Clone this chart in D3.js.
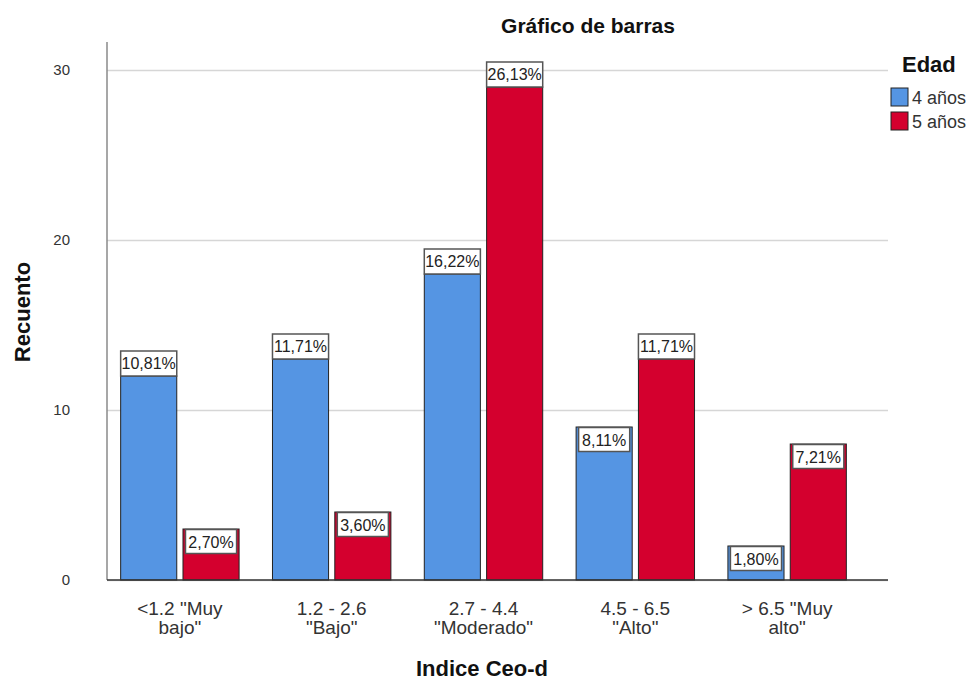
<!DOCTYPE html>
<html>
<head>
<meta charset="utf-8">
<script src="https://cdn.jsdelivr.net/npm/d3@7"></script>
<style>
  body { margin: 0; background: #fff; }
  svg { font-family: "Liberation Sans", Arial, sans-serif; }
</style>
</head>
<body>
<script>
'use strict';
// categories of the x axis, with the line breaks used under the ticks
let categories = ['<1.2 "Muy bajo"', '1.2 - 2.6 "Bajo"', '2.7 - 4.4 "Moderado"', '4.5 - 6.5 "Alto"', '> 6.5 "Muy alto"'];
let tickLines = [['<1.2 "Muy', 'bajo"'], ['1.2 - 2.6', '"Bajo"'], ['2.7 - 4.4', '"Moderado"'], ['4.5 - 6.5', '"Alto"'], ['> 6.5 "Muy', 'alto"']];
let series = ['4 años', '5 años'];
let counts4 = [12, 13, 18, 9, 2];
let counts5 = [3, 4, 29, 13, 8];
let pct4 = ['10,81%', '11,71%', '16,22%', '8,11%', '1,80%'];
let pct5 = ['2,70%', '3,60%', '26,13%', '11,71%', '7,21%'];
let yTicks = [0, 10, 20, 30];
let colors = ['#5595e3', '#d4002e'];

let width = 971, height = 680;
let margin = {left: 107, right: 888, top: 42, bottom: 580};

let svg = d3.select('body').append('svg').attr('width', width).attr('height', height);

let y = d3.scaleLinear().domain([0, 30]).range([margin.bottom, 70]);
let x0 = d3.scaleBand().domain(categories).range([107, 860]).paddingInner(0.22).paddingOuter(0.09);
let x1 = d3.scaleBand().domain(series).range([0, x0.bandwidth()]).paddingInner(0.1);

// grid + y labels
let yAxis = d3.axisLeft(y).tickValues(yTicks).tickSize(-(margin.right - margin.left));
let yg = svg.append('g').attr('transform', 'translate(' + margin.left + ',0)').call(yAxis);
yg.select('.domain').remove();
yg.selectAll('.tick line').attr('stroke', '#d6d6d6').attr('stroke-width', 1.5);
yg.selectAll('.tick text').attr('x', -37).attr('fill', '#333').style('font-size', '15px');

svg.append('line').attr('x1', margin.left).attr('x2', margin.left).attr('y1', margin.top).attr('y2', margin.bottom)
  .attr('stroke', '#8a8a8a').attr('stroke-width', 1.5);

// bars
let rows = categories.map(function(c, i){
  return [
    {cat: c, s: series[0], v: counts4[i], p: pct4[i]},
    {cat: c, s: series[1], v: counts5[i], p: pct5[i]}
  ];
});

let groups = svg.append('g').selectAll('g').data(rows).enter().append('g')
  .attr('transform', function(d){ return 'translate(' + x0(d[0].cat) + ',0)'; });

groups.selectAll('rect').data(function(d){ return d; }).enter().append('rect')
  .attr('x', function(d){ return x1(d.s); })
  .attr('y', function(d){ return y(d.v); })
  .attr('width', x1.bandwidth())
  .attr('height', function(d){ return y(0) - y(d.v); })
  .attr('fill', function(d){ return colors[series.indexOf(d.s)]; })
  .attr('stroke', '#222').attr('stroke-width', 1);

// percentage labels: short bars get the label inside the bar top
let labels = groups.selectAll('g.lab').data(function(d){ return d; }).enter().append('g').attr('class', 'lab')
  .attr('transform', function(d){
    let inside = d.v < 10;
    let bx = x1(d.s) + (inside ? 2.5 : 0);
    let by = inside ? y(d.v) + 0.5 : y(d.v) - 25;
    return 'translate(' + bx + ',' + by + ')';
  });
labels.append('rect')
  .attr('width', function(d){ return d.v < 10 ? x1.bandwidth() - 5 : x1.bandwidth(); })
  .attr('height', function(d){ return d.v < 10 ? 24 : 25; })
  .attr('fill', '#fff').attr('stroke', '#555').attr('stroke-width', 1.5);
labels.append('text')
  .attr('x', function(d){ return (d.v < 10 ? x1.bandwidth() - 5 : x1.bandwidth()) / 2; })
  .attr('y', 18)
  .attr('text-anchor', 'middle').style('font-size', '16px').attr('fill', '#222')
  .text(function(d){ return d.p; });

// x axis
let xAxis = d3.axisBottom(x0).tickSize(0).tickFormat('');
let xg = svg.append('g').attr('transform', 'translate(0,' + margin.bottom + ')').call(xAxis);
xg.select('.domain').remove();
svg.append('line').attr('x1', margin.left).attr('x2', margin.right).attr('y1', margin.bottom).attr('y2', margin.bottom)
  .attr('stroke', '#333').attr('stroke-width', 1.5);

xg.selectAll('.tick').each(function(d, i){
  let t = d3.select(this).append('text').attr('text-anchor', 'middle').attr('fill', '#333')
    .style('font-size', '19px');
  tickLines[i].forEach(function(line, j){
    t.append('tspan').attr('x', 0).attr('y', 35 + j * 19).text(line);
  });
});

// titles
svg.append('text').attr('x', 588).attr('y', 33).attr('text-anchor', 'middle')
  .style('font-size', '21px').style('font-weight', 'bold').attr('fill', '#111').text('Gráfico de barras');
svg.append('text').attr('transform', 'translate(30,312) rotate(-90)').attr('text-anchor', 'middle')
  .style('font-size', '22px').style('font-weight', 'bold').attr('fill', '#111').text('Recuento');
svg.append('text').attr('x', 482).attr('y', 676).attr('text-anchor', 'middle')
  .style('font-size', '22px').style('font-weight', 'bold').attr('fill', '#111').text('Indice Ceo-d');

// legend
let legend = svg.append('g').attr('transform', 'translate(891,0)');
legend.append('text').attr('x', 11).attr('y', 72)
  .style('font-size', '22px').style('font-weight', 'bold').attr('fill', '#111').text('Edad');
let items = legend.selectAll('g.item').data(series).enter().append('g').attr('class', 'item')
  .attr('transform', function(d, i){ return 'translate(0,' + (88 + i * 24) + ')'; });
items.append('rect').attr('width', 17).attr('height', 18)
  .attr('fill', function(d, i){ return colors[i]; }).attr('stroke', '#222').attr('stroke-width', 1);
items.append('text').attr('x', 21).attr('y', 16).style('font-size', '18px').attr('fill', '#333')
  .text(function(d){ return d; });
</script>
</body>
</html>
